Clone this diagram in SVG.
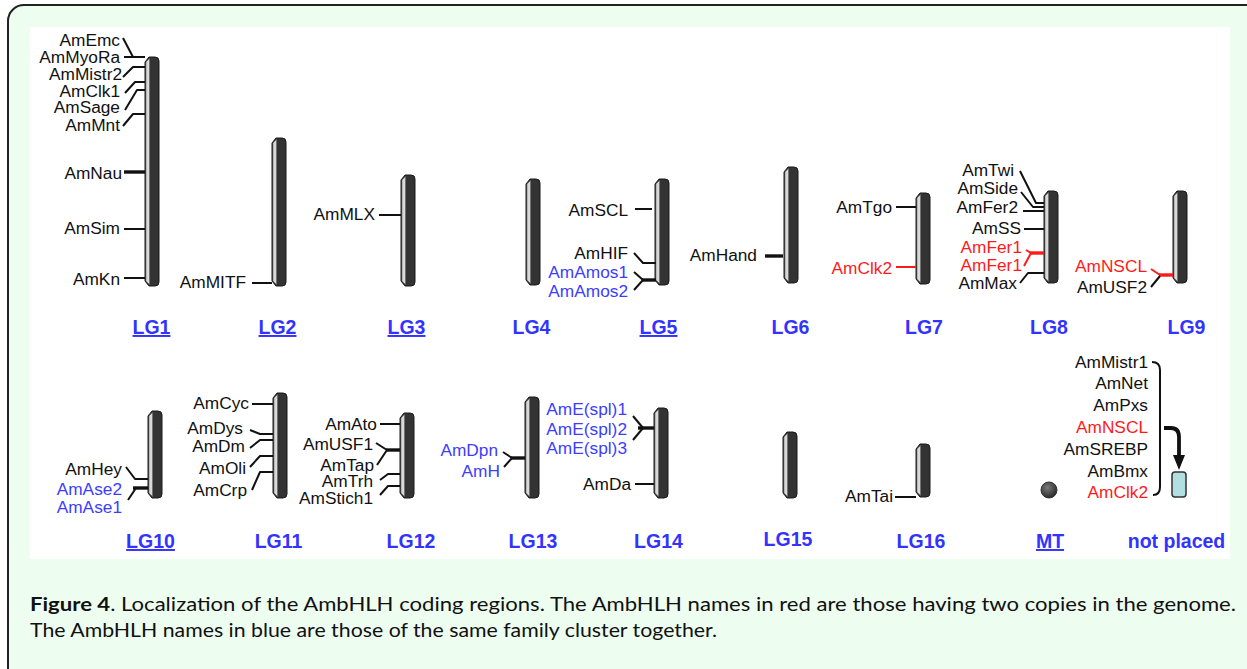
<svg xmlns="http://www.w3.org/2000/svg" width="1247" height="669" viewBox="0 0 1247 669">
<defs>
<style>
.g{font-family:"Liberation Sans",Arial,sans-serif;font-size:17.3px;fill:#111;text-anchor:end}
.b{fill:#3d3dff}
.r{fill:#ff1a1a}
.lg{font-family:"Liberation Sans",Arial,sans-serif;font-size:19.5px;font-weight:bold;fill:#3333ff;text-anchor:middle}
.u{text-decoration:underline}
.body{fill:#333;stroke:#1a1a1a;stroke-width:1}
.hl{fill:#d9d9d9;stroke:#666;stroke-width:0.6}
.ln{fill:none;stroke:#111;stroke-width:2;stroke-linejoin:round;stroke-linecap:butt}
.tk{stroke-width:3.4}
.rl{stroke:#ff1a1a}
.cap{font-family:Lato,"Open Sans",sans-serif;font-size:18.5px;fill:#111}
</style>
<radialGradient id="mtg" cx="0.4" cy="0.35" r="0.7"><stop offset="0" stop-color="#7a7a7a"/><stop offset="1" stop-color="#262626"/></radialGradient>
<marker id="ah" markerUnits="userSpaceOnUse" markerWidth="16" markerHeight="14" refX="2" refY="7" orient="auto" viewBox="0 0 16 14"><path d="M0,1 L15,7 L0,13 Z" fill="#111"/></marker>
</defs>
<rect x="8" y="5" width="1260" height="690" rx="16" fill="#edfdf0" stroke="#222" stroke-width="2"/>
<rect x="30" y="27" width="1200" height="532" fill="#fff"/>

<g id="LG1"><path class="body" d="M149,57 H155 Q159,57 159,61 V282 Q159,286 155,286 H149 L145,281 V62 Z"/><path class="hl" d="M146,62 L149.5,58.5 V284.5 L146,281 Z"/><text class="lg u" x="151.5" y="334">LG1</text></g>
<g id="LG2"><path class="body" d="M276,138 H282 Q286,138 286,142 V282 Q286,286 282,286 H276 L272,281 V143 Z"/><path class="hl" d="M273,143 L276.5,139.5 V284.5 L273,281 Z"/><text class="lg u" x="277.5" y="334">LG2</text></g>
<g id="LG3"><path class="body" d="M405,175 H411 Q415,175 415,179 V282 Q415,286 411,286 H405 L401,281 V180 Z"/><path class="hl" d="M402,180 L405.5,176.5 V284.5 L402,281 Z"/><text class="lg u" x="406.5" y="334">LG3</text></g>
<g id="LG4"><path class="body" d="M530,179 H536 Q540,179 540,183 V281 Q540,285 536,285 H530 L526,280 V184 Z"/><path class="hl" d="M527,184 L530.5,180.5 V283.5 L527,280 Z"/><text class="lg" x="531.5" y="334">LG4</text></g>
<g id="LG5"><path class="body" d="M659,179 H665 Q669,179 669,183 V281 Q669,285 665,285 H659 L655,280 V184 Z"/><path class="hl" d="M656,184 L659.5,180.5 V283.5 L656,280 Z"/><text class="lg u" x="658.5" y="334">LG5</text></g>
<g id="LG6"><path class="body" d="M788,167 H794 Q798,167 798,171 V279 Q798,283 794,283 H788 L784,278 V172 Z"/><path class="hl" d="M785,172 L788.5,168.5 V281.5 L785,278 Z"/><text class="lg" x="790.5" y="334">LG6</text></g>
<g id="LG7"><path class="body" d="M920,193 H926 Q930,193 930,197 V280 Q930,284 926,284 H920 L916,279 V198 Z"/><path class="hl" d="M917,198 L920.5,194.5 V282.5 L917,279 Z"/><text class="lg" x="924" y="334">LG7</text></g>
<g id="LG8"><path class="body" d="M1048,191 H1054 Q1058,191 1058,195 V279 Q1058,283 1054,283 H1048 L1044,278 V196 Z"/><path class="hl" d="M1045,196 L1048.5,192.5 V281.5 L1045,278 Z"/><text class="lg" x="1049" y="334">LG8</text></g>
<g id="LG9"><path class="body" d="M1177,191 H1183 Q1187,191 1187,195 V279 Q1187,283 1183,283 H1177 L1173,278 V196 Z"/><path class="hl" d="M1174,196 L1177.5,192.5 V281.5 L1174,278 Z"/><text class="lg" x="1186.5" y="334">LG9</text></g>
<g id="LG10"><path class="body" d="M152,411 H158 Q162,411 162,415 V494 Q162,498 158,498 H152 L148,493 V416 Z"/><path class="hl" d="M149,416 L152.5,412.5 V496.5 L149,493 Z"/><text class="lg u" x="150.5" y="548">LG10</text></g>
<g id="LG11"><path class="body" d="M277,393 H283 Q287,393 287,397 V494 Q287,498 283,498 H277 L273,493 V398 Z"/><path class="hl" d="M274,398 L277.5,394.5 V496.5 L274,493 Z"/><text class="lg" x="278.5" y="548">LG11</text></g>
<g id="LG12"><path class="body" d="M404,413 H410 Q414,413 414,417 V494 Q414,498 410,498 H404 L400,493 V418 Z"/><path class="hl" d="M401,418 L404.5,414.5 V496.5 L401,493 Z"/><text class="lg" x="411" y="548">LG12</text></g>
<g id="LG13"><path class="body" d="M529,397 H535 Q539,397 539,401 V494 Q539,498 535,498 H529 L525,493 V402 Z"/><path class="hl" d="M526,402 L529.5,398.5 V496.5 L526,493 Z"/><text class="lg" x="533" y="548">LG13</text></g>
<g id="LG14"><path class="body" d="M658,408 H664 Q668,408 668,412 V494 Q668,498 664,498 H658 L654,493 V413 Z"/><path class="hl" d="M655,413 L658.5,409.5 V496.5 L655,493 Z"/><text class="lg" x="658.5" y="548">LG14</text></g>
<g id="LG15"><path class="body" d="M787,432 H793 Q797,432 797,436 V494 Q797,498 793,498 H787 L783,493 V437 Z"/><path class="hl" d="M784,437 L787.5,433.5 V496.5 L784,493 Z"/><text class="lg" x="788" y="546">LG15</text></g>
<g id="LG16"><path class="body" d="M920,444 H926 Q930,444 930,448 V493 Q930,497 926,497 H920 L916,492 V449 Z"/><path class="hl" d="M917,449 L920.5,445.5 V495.5 L917,492 Z"/><text class="lg" x="921" y="548">LG16</text></g>
<g id="MT"><circle cx="1049" cy="490" r="8" fill="url(#mtg)" stroke="#333" stroke-width="1"/><text class="lg u" x="1050" y="548">MT</text></g>
<g id="notplaced"><rect x="1172" y="472" width="14" height="25" rx="3" fill="#b3dfe3" stroke="#333" stroke-width="1.5"/><text class="lg" x="1176.5" y="548">not placed</text></g>

<g id="labels-LG1">
<text class="g" x="120" y="46">AmEmc</text>
<text class="g" x="120" y="63">AmMyoRa</text>
<text class="g" x="122" y="80">AmMistr2</text>
<text class="g" x="120" y="97">AmClk1</text>
<text class="g" x="120" y="113">AmSage</text>
<text class="g" x="120" y="131">AmMnt</text>
<text class="g" x="122" y="179">AmNau</text>
<text class="g" x="120" y="234">AmSim</text>
<text class="g" x="120" y="285">AmKn</text>
</g>
<g id="labels-LG2"><text class="g" x="246" y="288">AmMITF</text></g>
<g id="labels-LG3"><text class="g" x="375" y="220">AmMLX</text></g>
<g id="labels-LG5">
<text class="g" x="628" y="216">AmSCL</text>
<text class="g" x="628" y="259">AmHIF</text>
<text class="g b" x="628" y="278">AmAmos1</text>
<text class="g b" x="628" y="297">AmAmos2</text>
</g>
<g id="labels-LG6"><text class="g" x="757" y="261">AmHand</text></g>
<g id="labels-LG7">
<text class="g" x="892" y="213">AmTgo</text>
<text class="g r" x="892" y="274">AmClk2</text>
</g>
<g id="labels-LG8">
<text class="g" x="1014" y="176">AmTwi</text>
<text class="g" x="1018" y="194">AmSide</text>
<text class="g" x="1018" y="213">AmFer2</text>
<text class="g" x="1021" y="234">AmSS</text>
<text class="g r" x="1022" y="253">AmFer1</text>
<text class="g r" x="1022" y="271">AmFer1</text>
<text class="g" x="1017" y="289">AmMax</text>
</g>
<g id="labels-LG9">
<text class="g r" x="1147" y="272">AmNSCL</text>
<text class="g" x="1147" y="293">AmUSF2</text>
</g>
<g id="labels-LG10">
<text class="g" x="122" y="475">AmHey</text>
<text class="g b" x="122" y="495">AmAse2</text>
<text class="g b" x="122" y="513">AmAse1</text>
</g>
<g id="labels-LG11">
<text class="g" x="249" y="409">AmCyc</text>
<text class="g" x="243" y="434">AmDys</text>
<text class="g" x="245" y="452">AmDm</text>
<text class="g" x="246" y="474">AmOli</text>
<text class="g" x="247" y="496">AmCrp</text>
</g>
<g id="labels-LG12">
<text class="g" x="377" y="430">AmAto</text>
<text class="g" x="373" y="450">AmUSF1</text>
<text class="g" x="374" y="471">AmTap</text>
<text class="g" x="373" y="487">AmTrh</text>
<text class="g" x="373" y="504">AmStich1</text>
</g>
<g id="labels-LG13">
<text class="g b" x="498" y="456">AmDpn</text>
<text class="g b" x="500" y="477">AmH</text>
</g>
<g id="labels-LG14">
<text class="g b" x="627" y="415">AmE(spl)1</text>
<text class="g b" x="627" y="435">AmE(spl)2</text>
<text class="g b" x="627" y="454">AmE(spl)3</text>
<text class="g" x="631" y="490">AmDa</text>
</g>
<g id="labels-LG16"><text class="g" x="893" y="502">AmTai</text></g>
<g id="labels-notplaced">
<text class="g" x="1148" y="368">AmMistr1</text>
<text class="g" x="1148" y="389">AmNet</text>
<text class="g" x="1148" y="411">AmPxs</text>
<text class="g r" x="1148" y="433">AmNSCL</text>
<text class="g" x="1148" y="455">AmSREBP</text>
<text class="g" x="1148" y="477">AmBmx</text>
<text class="g r" x="1148" y="498">AmClk2</text>
</g>

<g id="connectors">
<polyline class="ln" points="123,38 133,57"/>
<polyline class="ln" points="124,57 145,57"/>
<polyline class="ln" points="123,77 133,67 145,67"/>
<polyline class="ln" points="125,93 135,82 145,82"/>
<polyline class="ln" points="125,110 137,90 145,90"/>
<polyline class="ln" points="123,126 133,114 145,114"/>
<line class="ln tk" x1="124" y1="172" x2="145" y2="172"/>
<line class="ln" x1="124" y1="229" x2="145" y2="229"/>
<line class="ln" x1="124" y1="278" x2="145" y2="278"/>
<line class="ln" x1="252" y1="283" x2="272" y2="283"/>
<line class="ln" x1="379" y1="215" x2="401" y2="215"/>
<line class="ln" x1="635" y1="209" x2="652" y2="209"/>
<polyline class="ln" points="634,253 643,263 656,263"/>
<polyline class="ln" points="634,272 643,280"/>
<polyline class="ln" points="634,290 643,280"/>
<line class="ln tk" x1="642" y1="280" x2="656" y2="280"/>
<line class="ln tk" x1="765" y1="256" x2="783" y2="256"/>
<line class="ln" x1="896" y1="207" x2="916" y2="207"/>
<line class="ln rl" x1="896" y1="267" x2="916" y2="267"/>
<polyline class="ln" points="1020,171 1036,203 1044,203"/>
<polyline class="ln" points="1021,192 1033,207 1044,207"/>
<line class="ln" x1="1023" y1="211" x2="1044" y2="211"/>
<line class="ln" x1="1024" y1="229" x2="1044" y2="229"/>
<line class="ln rl" x1="1026" y1="250" x2="1031" y2="253"/>
<line class="ln rl" x1="1024" y1="266" x2="1031" y2="253"/>
<line class="ln rl tk" x1="1030" y1="253" x2="1044" y2="253"/>
<polyline class="ln" points="1020,283 1028,273 1044,273"/>
<polyline class="ln rl" points="1151,269 1160,275"/>
<line class="ln rl tk" x1="1159" y1="275" x2="1173" y2="275"/>
<polyline class="ln" points="1151,287 1160,276"/>
<polyline class="ln" points="126,467 135,479 148,479"/>
<line class="ln tk" x1="133" y1="488" x2="148" y2="488"/>
<line class="ln" x1="128" y1="500" x2="136" y2="488"/>
<line class="ln" x1="252" y1="404" x2="273" y2="404"/>
<polyline class="ln" points="250,430 260,434 273,434"/>
<polyline class="ln" points="250,448 260,440 273,440"/>
<polyline class="ln" points="250,467 260,456 273,456"/>
<polyline class="ln" points="252,490 260,472 273,472"/>
<line class="ln" x1="380" y1="424" x2="400" y2="424"/>
<polyline class="ln" points="376,443 387,450"/>
<polyline class="ln" points="377,465 387,450"/>
<line class="ln tk" x1="386" y1="450" x2="400" y2="450"/>
<polyline class="ln" points="380,480 388,474 400,474"/>
<polyline class="ln" points="380,495 388,486 400,486"/>
<polyline class="ln" points="503,452 512,458"/>
<polyline class="ln" points="504,467 512,458"/>
<line class="ln tk" x1="511" y1="458" x2="525" y2="458"/>
<polyline class="ln" points="633,416 643,428"/>
<polyline class="ln" points="633,440 643,428"/>
<line class="ln tk" x1="638" y1="428" x2="654" y2="428"/>
<line class="ln" x1="635" y1="484" x2="654" y2="484"/>
<line class="ln" x1="895" y1="497" x2="916" y2="497"/>
<path class="ln" d="M1152,362 Q1160,362 1160,370 V487 Q1160,495 1153,495"/>
<path class="ln" style="stroke-width:3.8" d="M1164,428 H1171 Q1179,428 1179,437 V457" marker-end="url(#ah)"/>
</g>

<g id="caption">
<text class="cap" x="30" y="611" textLength="1206" lengthAdjust="spacingAndGlyphs"><tspan font-weight="bold">Figure 4</tspan>. Localization of the AmbHLH coding regions. The AmbHLH names in red are those having two copies in the genome.</text>
<text class="cap" x="30" y="637" textLength="687" lengthAdjust="spacingAndGlyphs">The AmbHLH names in blue are those of the same family cluster together.</text>
</g>
</svg>
